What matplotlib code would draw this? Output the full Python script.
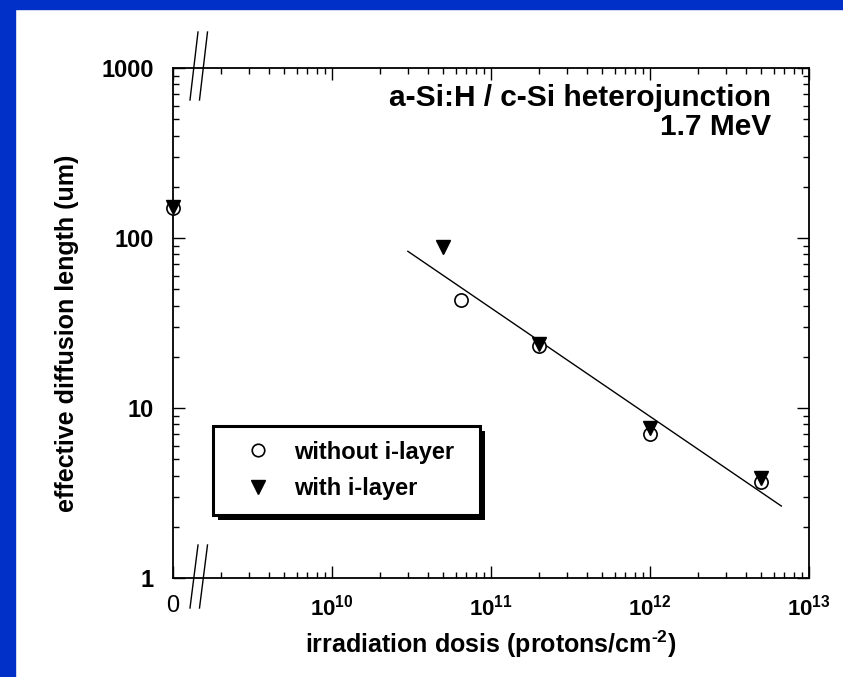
import matplotlib
matplotlib.use("Agg")
import matplotlib.pyplot as plt
from matplotlib.lines import Line2D
from matplotlib.patches import Rectangle
from matplotlib.transforms import IdentityTransform
from matplotlib.ticker import LogLocator, NullFormatter, FixedLocator, FixedFormatter

plt.rcParams['font.family'] = ['Liberation Sans', 'DejaVu Sans']
plt.rcParams['mathtext.fontset'] = 'custom'
plt.rcParams['mathtext.rm'] = 'Liberation Sans:bold'
plt.rcParams['mathtext.bf'] = 'Liberation Sans:bold'
plt.rcParams['mathtext.default'] = 'bf'
plt.rcParams['axes.unicode_minus'] = False

# Proton dose (protons/cm^2); 0 = unirradiated reference sample
dose_without = [0, 6.5e10, 2e11, 1e12, 5e12]
L_without = [150, 43, 23.3, 7.0, 3.65]

dose_with = [0, 5e10, 2e11, 1e12, 5e12]
L_with = [152, 88, 23.8, 7.6, 3.85]

# Power-law fit through the irradiated samples
fit_dose = [3.0e10, 6.7e12]
fit_L = [83.5, 2.65]

# The zero-dose point sits at the left edge of the (broken) log axis
ZERO_POS = 1e9

def place(d):
    return [ZERO_POS if v == 0 else v for v in d]

W, H = 843, 677
fig = plt.figure(figsize=(W / 100, H / 100), dpi=100)
fig.patch.set_facecolor('white')

# blue frame strips
blue = '#0030C8'
fig.patches.append(Rectangle((0, 0), 15 / W, 1, transform=fig.transFigure,
                             color=blue, zorder=0))
fig.patches.append(Rectangle((0, 1 - 9 / H), 1, 9 / H, transform=fig.transFigure,
                             color=blue, zorder=0))

ax = fig.add_axes([173 / W, 1 - 578 / H, (809 - 173) / W, (578 - 68) / H])
ax.set_xscale('log')
ax.set_yscale('log')
ax.set_xlim(1e9, 1e13)
ax.set_ylim(1, 1000)

ax.plot(fit_dose, fit_L, color='black', lw=1.0, zorder=2)
ax.plot(place(dose_without), L_without, linestyle='none', marker='o', ms=9.5,
        mfc='white', mec='black', mew=1.2, zorder=3, clip_on=False)
ax.plot(place(dose_with), L_with, linestyle='none', marker='v', ms=10.5,
        mfc='black', mec='black', zorder=4, clip_on=False)

for s in ax.spines.values():
    s.set_linewidth(1.3)

# x ticks
xt = [1e9, 1e10, 1e11, 1e12, 1e13]
xl = ['0', r'$10^{10}$', r'$10^{11}$', r'$10^{12}$', r'$10^{13}$']
ax.xaxis.set_major_locator(FixedLocator(xt))
ax.xaxis.set_major_formatter(FixedFormatter(xl))
ax.xaxis.set_minor_locator(LogLocator(base=10, subs=range(2, 10), numticks=20))
ax.xaxis.set_minor_formatter(NullFormatter())
ax.yaxis.set_major_locator(FixedLocator([1, 10, 100, 1000]))
ax.yaxis.set_major_formatter(FixedFormatter(['1', '10', '100', '1000']))
ax.yaxis.set_minor_locator(LogLocator(base=10, subs=range(2, 10), numticks=20))
ax.yaxis.set_minor_formatter(NullFormatter())

ax.tick_params(which='both', direction='in', top=True, right=True, width=1.0)
ax.tick_params(which='major', length=8.5)
ax.tick_params(which='minor', length=4.3)
ax.tick_params(axis='y', which='major', pad=14, labelsize=17)
ax.tick_params(axis='x', which='major', pad=12, labelsize=16)
for lab in ax.get_yticklabels():
    lab.set_fontweight('bold')
ax.get_xticklabels()[0].set_fontweight('normal')
ax.get_xticklabels()[0].set_fontsize(17)

ax.set_xlabel(r'irradiation dosis (protons/cm$^{\text{-2}}$)', fontsize=18,
              fontweight='bold', labelpad=6)
ax.set_ylabel('effective diffusion length (um)', fontsize=18,
              fontweight='bold', labelpad=16)
ax.yaxis.label.set_y(0.48)

ax.text(0.94, 0.925, 'a-Si:H / c-Si heterojunction', transform=ax.transAxes,
        ha='right', va='baseline', fontsize=21.5, fontweight='bold')
ax.text(0.94, 0.868, '1.7 MeV', transform=ax.transAxes,
        ha='right', va='baseline', fontsize=21.5, fontweight='bold')

# axis-break marks on the x axis
for x0 in (190, 199.5):
    for (y_top, y_bot) in ((32, 100), (545, 608)):
        fig.add_artist(Line2D([(x0 + 8) / W, x0 / W], [1 - y_top / H, 1 - y_bot / H],
                              transform=fig.transFigure, color='black', lw=1.0))

handles = [Line2D([], [], linestyle='none', marker='o', ms=9, mfc='white',
                  mec='black', mew=1.2),
           Line2D([], [], linestyle='none', marker='v', ms=10, mfc='black',
                  mec='black')]
leg_w = (480 - 213) / 636
leg_top = (578 - 426) / 510
leg = ax.legend(handles, ['without i-layer', 'with i-layer'],
                loc='upper left', bbox_to_anchor=(40 / 636, leg_top - 0.2, leg_w, 0.2),
                mode='expand', borderaxespad=0, frameon=True, fancybox=False,
                prop={'weight': 'bold', 'size': 17}, handlelength=2.56,
                handletextpad=0.27, labelspacing=0.58, borderpad=0.62)
leg.get_frame().set_edgecolor('black')
leg.get_frame().set_linewidth(2.2)
leg.get_frame().set_alpha(1)
leg.set_zorder(6)

fig.canvas.draw()
bb = leg.get_window_extent()
shadow = Rectangle((bb.x0 + 5, bb.y0 - 5), bb.width, bb.height,
                   transform=IdentityTransform(), facecolor='black',
                   edgecolor='none', zorder=5.5, clip_on=False)
ax.add_artist(shadow)

fig.savefig('out.png', dpi=100, facecolor='white')
